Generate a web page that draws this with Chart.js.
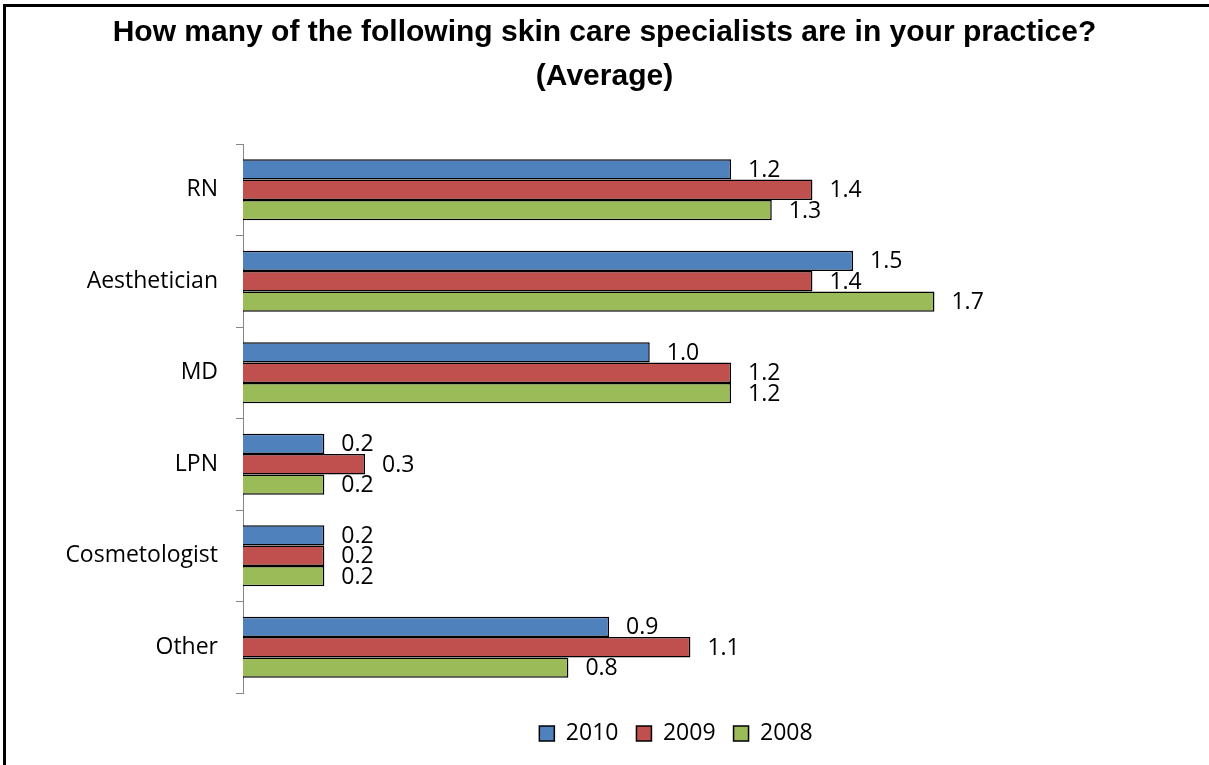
<!DOCTYPE html>
<html>
<head>
<meta charset="utf-8">
<script src="https://cdn.jsdelivr.net/npm/chart.js@4"></script>
<style>
  html, body { margin: 0; padding: 0; background: #fff; overflow: hidden; }
  #wrap { position: relative; width: 1209px; height: 765px; }
  #frame { position: absolute; left: 3px; top: 4px; width: 1220px; height: 780px;
           border-left: 3px solid #000; border-top: 3px solid #000; }
  #chart { position: absolute; left: 0; top: 0; }
</style>
</head>
<body>
<div id="wrap">
  <div id="frame"></div>
  <canvas id="chart" width="1209" height="765"></canvas>
</div>
<script>
const categories = ["RN", "Aesthetician", "MD", "LPN", "Cosmetologist", "Other"];
const seriesNames = ["2010", "2009", "2008"];
const values2010 = [1.2, 1.5, 1.0, 0.2, 0.2, 0.9];
const values2009 = [1.4, 1.4, 1.2, 0.3, 0.2, 1.1];
const values2008 = [1.3, 1.7, 1.2, 0.2, 0.2, 0.8];
const seriesColors = ["#4F81BD", "#C0504D", "#9BBB59"];

const labelFont = { family: "'Open Sans', sans-serif", size: 23 };

// value labels at the end of each bar
const valueLabels = {
    id: "valueLabels",
    afterDatasetsDraw(chart) {
        const ctx = chart.ctx;
        ctx.save();
        ctx.font = "23px 'Open Sans', sans-serif";
        ctx.fillStyle = "#000";
        ctx.textAlign = "left";
        ctx.textBaseline = "middle";
        chart.data.datasets.forEach((ds, i) => {
            chart.getDatasetMeta(i).data.forEach((bar, j) => {
                ctx.fillText(ds.data[j].toFixed(1), bar.x + 17, bar.y + 1);
            });
        });
        ctx.restore();
    }
};

// Excel puts the legend a bit right of the middle
const legendShift = {
    id: "legendShift",
    afterLayout(chart) {
        const lg = chart.legend;
        const w = lg.right - lg.left;
        lg.left = 676 - w / 2;
        lg.right = 676 + w / 2;
    }
};

const allValues = [values2010, values2009, values2008];

new Chart(document.getElementById("chart"), {
    type: "bar",
    data: {
        labels: categories,
        datasets: seriesNames.map((name, i) => ({
            label: name,
            data: allValues[i],
            backgroundColor: seriesColors[i],
            borderColor: "#000",
            borderWidth: 1.5,
            categoryPercentage: 0.667,
            barPercentage: 1
        }))
    },
    options: {
        indexAxis: "y",
        responsive: false,
        animation: false,
        devicePixelRatio: 1,
        layout: { padding: { top: 0, bottom: 10, left: 0, right: 0 } },
        plugins: {
            title: {
                display: true,
                text: ["How many of the following skin care specialists are in your practice?", "(Average)"],
                color: "#000",
                font: { family: "'Liberation Sans', Arial, sans-serif", size: 30, weight: "bold", lineHeight: 1.467 },
                padding: { top: 11, bottom: 45 }
            },
            legend: {
                position: "bottom",
                labels: {
                    color: "#000",
                    font: labelFont,
                    boxWidth: 15,
                    boxHeight: 15,
                    padding: 18
                }
            },
            tooltip: { enabled: false }
        },
        scales: {
            x: {
                min: 0,
                max: 2.375,
                display: true,
                grid: { display: false },
                border: { display: false },
                ticks: { display: false },
                afterFit: s => { s.height = 11; }
            },
            y: {
                grid: { offset: true, drawOnChartArea: false, drawTicks: true, tickLength: 7, color: "#868686" },
                border: { display: true, color: "#868686", width: 1 },
                ticks: { color: "#000", font: labelFont, padding: 18 },
                afterFit: s => { s.width = 243; }
            }
        }
    },
    plugins: [valueLabels, legendShift]
});
</script>
</body>
</html>
